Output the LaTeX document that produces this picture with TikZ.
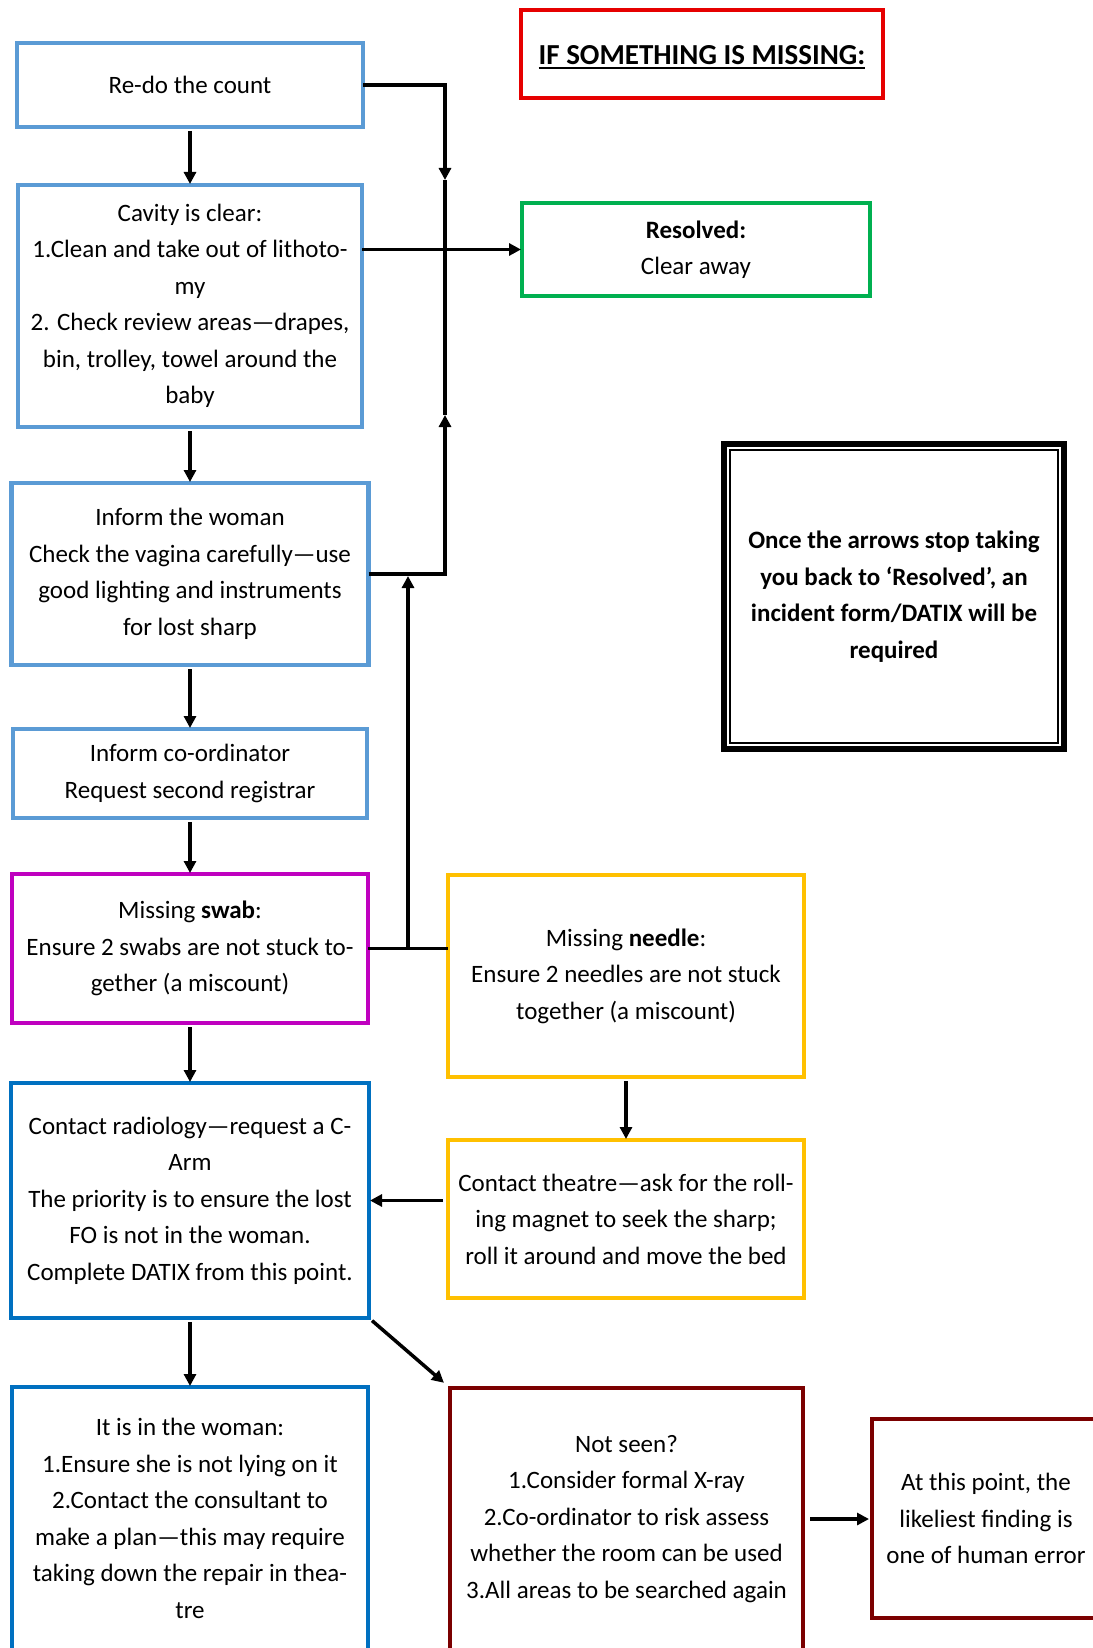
\documentclass[tikz,border=0pt]{standalone}
\usepackage{xcolor}
\usepackage{tikz}
\usepackage{fontspec}
\setmainfont{Carlito}
\newcommand{\titleline}[1]{\setbox0\hbox{#1}\rlap{\copy0}\rule[-4pt]{\wd0}{1.8pt}}
\definecolor{countblue}{HTML}{5B9BD5}
\definecolor{deepblue}{HTML}{0070C0}
\definecolor{swabpink}{HTML}{BF00BF}
\definecolor{needlegold}{HTML}{FFC000}
\definecolor{maroonred}{HTML}{7B0000}
\definecolor{okgreen}{HTML}{00B050}
\definecolor{alertred}{HTML}{E60000}
\usetikzlibrary{arrows.meta, positioning, calc}

\begin{document}
\begin{tikzpicture}[x=1pt, y=-1pt,
    box/.style={draw, line width=4.5pt, outer sep=0pt, inner sep=2pt, align=center, font=\fontsize{25}{36.5}\selectfont},
    link/.style={line width=3.5pt},
    flow/.style={->, line width=3.5pt, shorten <=4pt, shorten >=1pt},
    >={Triangle[length=12pt, width=12pt]}]
    \useasboundingbox (0,0) rectangle (1092,1648);

    % Left column
    \node[box, draw=countblue, minimum width=346, minimum height=84] (redo) at (190,85) {Re-do the count};
    \node[box, draw=countblue, minimum width=344, minimum height=242, below=58pt of redo] (cavity) {
        Cavity is clear:\\1.Clean and take out of lithoto-\\my\\2. Check review areas---drapes,\\bin, trolley, towel around the\\baby
    };
    \node[box, draw=countblue, minimum width=357, minimum height=182, below=56pt of cavity] (woman) {
        Inform the woman\\Check the vagina carefully---use\\good lighting and instruments\\for lost sharp
    };
    \node[box, draw=countblue, minimum width=354, minimum height=89, below=64pt of woman] (coord) {
        Inform co-ordinator\\Request second registrar
    };
    \node[box, draw=swabpink, minimum width=356, minimum height=149, below=56pt of coord] (swab) {
        Missing \textbf{swab}:\\Ensure 2 swabs are not stuck to-\\gether (a miscount)
    };
    \node[box, draw=deepblue, minimum width=358, minimum height=235, below=60pt of swab] (radio) {
        Contact radiology---request a C-\\Arm\\The priority is to ensure the lost\\FO is not in the woman.\\Complete DATIX from this point.
    };
    \node[box, draw=deepblue, minimum width=356, minimum height=263, below=69pt of radio] (inwoman) {
        It is in the woman:\\1.Ensure she is not lying on it\\2.Contact the consultant to\\make a plan---this may require\\taking down the repair in thea-\\tre
    };

    % Right column
    \node[box, draw=alertred, minimum width=362, minimum height=88, font=\fontsize{29}{35}\selectfont\bfseries] (title) at (702,54) {\rule{0pt}{26pt}\titleline{IF SOMETHING IS MISSING:}};
    \node[box, draw=okgreen, minimum width=348, minimum height=93] (resolved) at (696,249.5) {
        \textbf{Resolved:}\\Clear away
    };
    \node[box, draw=black, line width=6pt, minimum width=340, minimum height=305, font=\fontsize{25}{36.5}\selectfont\bfseries] (note) at (894,596.5) {
        Once the arrows stop taking\\you back to `Resolved', an\\incident form/DATIX will be\\required
    };
    \draw[line width=1.5pt] ($(note.north west)+(6,6)$) rectangle ($(note.south east)+(-6,-6)$);
    \node[box, draw=needlegold, minimum width=356, minimum height=202] (needle) at (626,976) {
        Missing \textbf{needle}:\\Ensure 2 needles are not stuck\\together (a miscount)
    };
    \node[box, draw=needlegold, minimum width=356, minimum height=158] (theatre) at (626,1219) {
        Contact theatre---ask for the roll-\\ing magnet to seek the sharp;\\roll it around and move the bed
    };
    \node[box, draw=maroonred, minimum width=353, minimum height=262] (notseen) at (626.5,1519) {
        Not seen?\\1.Consider formal X-ray\\2.Co-ordinator to risk assess\\whether the room can be used\\3.All areas to be searched again
    };
    \node[box, draw=maroonred, minimum width=228, minimum height=199] (human) at (986,1518.5) {
        At this point, the\\likeliest finding is\\one of human error
    };

    % Junction points on the return lines
    \coordinate (spinedown) at (445,180);
    \coordinate (spineup) at (445,415);
    \coordinate (merge) at (408,576);

    % Main chain
    \draw[flow] (redo) -- (cavity);
    \draw[flow] (cavity) -- (woman);
    \draw[flow] (woman) -- (coord);
    \draw[flow] (coord) -- (swab);
    \draw[flow] (swab) -- (radio);
    \draw[flow] (radio) -- (inwoman);
    \draw[flow] (needle) -- (theatre);
    \draw[flow, shorten <=5pt] (theatre.west |- radio.east) -- (radio.east);
    \draw[flow, shorten >=8pt] (radio.south east) -- (notseen.north west);
    \draw[flow, shorten <=7pt, shorten >=3pt] (notseen.east) -- (notseen.east -| human.west);

    % Back to resolved
    \draw[->, link] (redo.east) -| (spinedown);
    \draw[link] (spinedown) -- (spineup);
    \draw[->, link] (woman.east) -| (spineup);
    \draw[flow, shorten <=0pt] (cavity.east |- resolved.west) -- (resolved.west);
    \draw[link] (swab.east) -- (swab.east -| needle.west);
    \draw[->, link] (swab.east -| merge) -- (merge);
\end{tikzpicture}
\end{document}
